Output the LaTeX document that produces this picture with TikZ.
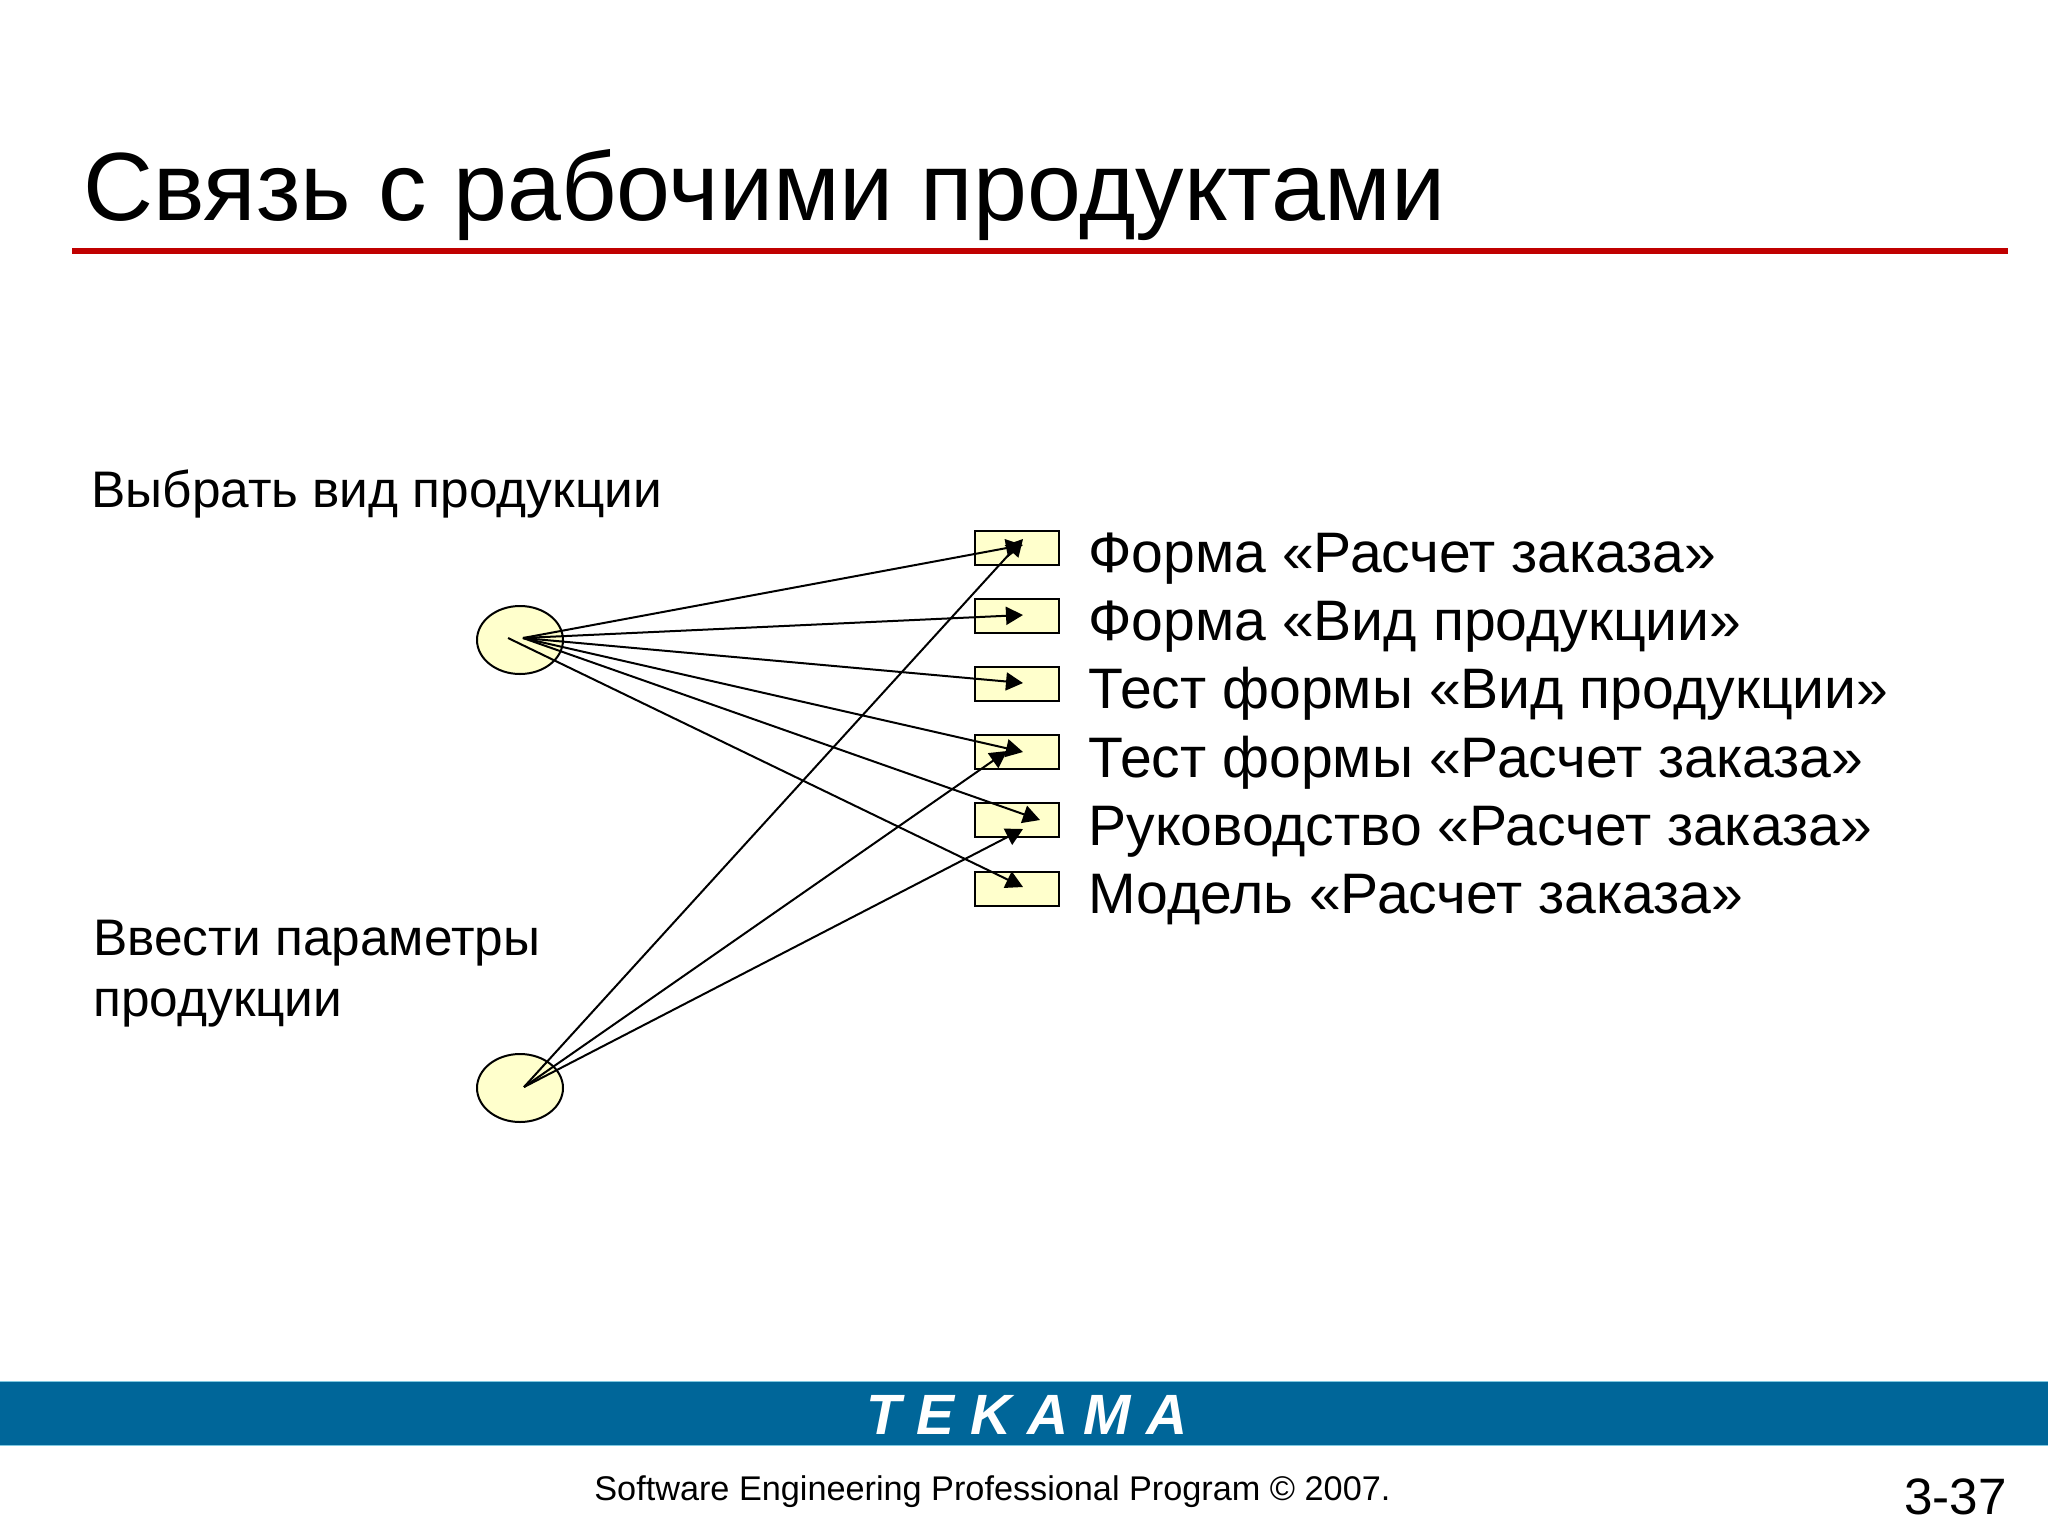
\documentclass[tikz,border=0pt]{standalone}
\usepackage{fontspec}
\setmainfont{Liberation Sans}
\usetikzlibrary{arrows.meta,shapes.geometric}
\definecolor{bandblue}{HTML}{006699}
\definecolor{bandedge}{HTML}{7FC8E0}
\definecolor{rulered}{HTML}{C00000}
\definecolor{paleyellow}{HTML}{FFFFCC}
\tikzset{
    usecase/.style={ellipse,draw,line width=1pt,fill=paleyellow,inner sep=0pt,minimum width=43pt,minimum height=34pt},
    product/.style={rectangle,draw,line width=1pt,fill=paleyellow,inner sep=0pt,minimum width=42pt,minimum height=17pt},
    link/.style={line width=1pt,-{Triangle[length=8.5pt,width=9pt]}},
    itemtext/.style={anchor=base west,inner sep=0pt,font=\fontsize{28.55}{32}\selectfont},
    casetext/.style={anchor=base west,inner sep=0pt,align=left,font=\fontsize{25.7}{30.5}\selectfont}
}
\begin{document}
\begin{tikzpicture}[x=.5pt,y=-.5pt]
    \useasboundingbox (0,0) rectangle (2048,1536);
    % title and footer
    \node[anchor=base west,inner sep=0pt,font=\fontsize{48.46}{60}\selectfont] (title) at (83,220) {Связь с рабочими продуктами};
    \fill[rulered] (72,248) rectangle (2008,254);
    \fill[bandblue] (0,1381) rectangle (2048,1445);
    \draw[bandedge,line width=.5pt] (0,1381) -- (2048,1381);
    \draw[bandedge,line width=.5pt] (0,1445) -- (2048,1445);
    \node[anchor=base,inner sep=0pt,text=white,font=\fontsize{28.4}{36}\selectfont\bfseries\itshape] (brand) at (1027,1434) {T E K A M A};
    \node[anchor=base west,inner sep=0pt,font=\fontsize{17.12}{20}\selectfont] (footer) at (594,1500) {Software Engineering Professional Program © 2007.};
    \node[anchor=base west,inner sep=0pt,font=\fontsize{25.6}{30}\selectfont] (page) at (1904,1514) {3-37};
    % use cases
    \node[usecase] (caseA) at (520,640) {};
    \node[usecase] (caseB) at (520,1088) {};
    \node[casetext] (caseAtext) at (91,507) {Выбрать вид продукции};
    \node[casetext] (caseBtext) at (93,1016) {Ввести параметры\\продукции};
    % products
    \node[product] (boxA) at (1017,547.5) {};
    \node[product] (boxB) at (1017,615.5) {};
    \node[product] (boxC) at (1017,684) {};
    \node[product] (boxD) at (1017,752) {};
    \node[product] (boxE) at (1017,820) {};
    \node[product] (boxF) at (1017,889) {};
    \node[itemtext] (textA) at (1088,572) {Форма «Расчет заказа»};
    \node[itemtext] (textB) at (1088,640) {Форма «Вид продукции»};
    \node[itemtext] (textC) at (1088,708) {Тест формы «Вид продукции»};
    \node[itemtext] (textD) at (1088,777) {Тест формы «Расчет заказа»};
    \node[itemtext] (textE) at (1088,845) {Руководство «Расчет заказа»};
    \node[itemtext] (textF) at (1088,913) {Модель «Расчет заказа»};
    % line ends
    \coordinate (fromA) at (523,638);
    \coordinate (fromAlow) at (508,638);
    \coordinate (fromB) at (524,1087);
    \coordinate (tipA) at (1023,545);
    \coordinate (tipAlow) at (1023,539);
    \coordinate (tipB) at (1023,615);
    \coordinate (tipC) at (1023,683);
    \coordinate (tipD) at (1023,752);
    \coordinate (tipDlow) at (1007,751);
    \coordinate (tipE) at (1040,820);
    \coordinate (tipElow) at (1023,829);
    \coordinate (tipF) at (1023,887);
    % links
    \draw[link] (fromA) -- (tipA);
    \draw[link] (fromA) -- (tipB);
    \draw[link] (fromA) -- (tipC);
    \draw[link] (fromA) -- (tipD);
    \draw[link] (fromA) -- (tipE);
    \draw[link] (fromAlow) -- (tipF);
    \draw[link] (fromB) -- (tipAlow);
    \draw[link] (fromB) -- (tipDlow);
    \draw[link] (fromB) -- (tipElow);
\end{tikzpicture}
\end{document}
